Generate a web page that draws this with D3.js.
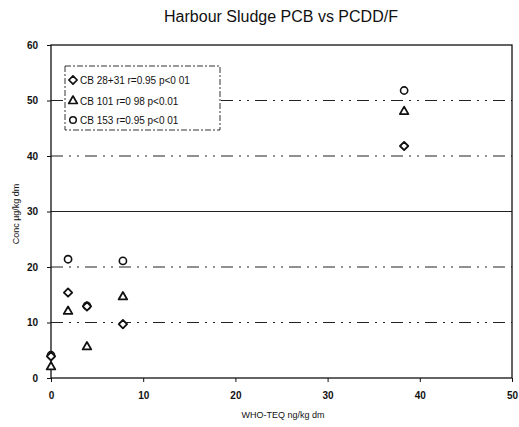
<!DOCTYPE html>
<html>
<head>
<meta charset="utf-8">
<script src="https://cdn.jsdelivr.net/npm/d3@7"></script>
<style>
  body { margin: 0; background: #fff; }
  text { font-family: "Liberation Sans", Arial, sans-serif; fill: #111; }
</style>
</head>
<body>
<svg width="519" height="427"></svg>
<script>
// données
let xTicks = [0, 10, 20, 30, 40, 50];
let yTicks = [0, 10, 20, 30, 40, 50, 60];
let gridY = [10, 20, 30, 40, 50];

let teq = [0, 1.85, 3.9, 7.8, 38.3];
let cb2831 = [3.9, 15.4, 12.9, 9.7, 41.8];
let cb101 = [2.0, 12.0, 5.6, 14.6, 48.0];
let teq153 = [0, 1.85, 3.9, 7.8, 38.3];
let cb153 = [4.1, 21.4, 13.0, 21.1, 51.8];

let legendLabels = ["CB 28+31 r=0.95 p<0 01", "CB 101 r=0 98 p<0.01", "CB 153 r=0.95 p<0 01"];

let svg = d3.select("svg");

let x = d3.scaleLinear().domain([0, 50]).range([51, 512]);
let y = d3.scaleLinear().domain([0, 60]).range([378, 45]);

// titre
svg.append("text")
    .attr("x", 281).attr("y", 22)
    .attr("text-anchor", "middle")
    .style("font-size", "16px")
    .text("Harbour Sludge PCB vs PCDD/F");

// lignes de grille
svg.append("g").selectAll("line")
    .data(gridY)
    .enter().append("line")
    .attr("x1", x(0)).attr("x2", x(50))
    .attr("y1", d => y(d)).attr("y2", d => y(d))
    .attr("stroke", "#222")
    .attr("stroke-width", 1)
    .attr("stroke-dasharray", d => d == 30 ? null : "12,6,2,6,2,6");

// cadre
svg.append("rect")
    .attr("x", x(0)).attr("y", y(60))
    .attr("width", x(50) - x(0)).attr("height", y(0) - y(60))
    .attr("fill", "none").attr("stroke", "#111").attr("stroke-width", 1.3);

// axes
let axeX = svg.append("g")
    .attr("transform", "translate(0," + y(0) + ")")
    .call(d3.axisBottom(x).tickValues(xTicks).tickSize(4).tickPadding(10));
let axeY = svg.append("g")
    .attr("transform", "translate(" + x(0) + ",0)")
    .call(d3.axisLeft(y).tickValues(yTicks).tickSize(4).tickPadding(9));
[axeX, axeY].forEach(a => {
    a.select(".domain").remove();
    a.selectAll("line").attr("stroke", "#111");
    a.selectAll("text")
        .style("font-size", "10px")
        .style("font-weight", "bold")
        .style("font-family", "Liberation Sans, Arial, sans-serif");
});

// titres des axes
svg.append("text")
    .attr("x", 283).attr("y", 418)
    .attr("text-anchor", "middle")
    .style("font-size", "9px")
    .text("WHO-TEQ ng/kg dm");

svg.append("text")
    .attr("transform", "translate(19,214) rotate(-90)")
    .attr("text-anchor", "middle")
    .style("font-size", "9px")
    .text("Conc µg/kg dm");

// symboles
let diamant = d3.symbol().type(d3.symbolDiamond2).size(44);
let triangle = d3.symbol().type(d3.symbolTriangle).size(32);

function points(xs, ys, forme) {
    let g = svg.append("g");
    let data = xs.map((d, i) => ({ x: d, y: ys[i] }));
    if (forme == "cercle") {
        g.selectAll("circle").data(data).enter().append("circle")
            .attr("cx", d => x(d.x)).attr("cy", d => y(d.y))
            .attr("r", 3.6)
            .attr("fill", "white").attr("stroke", "#111").attr("stroke-width", 1.6);
    } else {
        g.selectAll("path").data(data).enter().append("path")
            .attr("d", forme == "diamant" ? diamant : triangle)
            .attr("transform", d => "translate(" + x(d.x) + "," + y(d.y) + ")")
            .attr("fill", "white").attr("stroke", "#111").attr("stroke-width", 1.8)
            .attr("stroke-linejoin", "round");
    }
}

points(teq153, cb153, "cercle");
points(teq, cb2831, "diamant");
points(teq, cb101, "triangle");

// légende
let leg = svg.append("g");
leg.append("rect")
    .attr("x", 65).attr("y", 66).attr("width", 155).attr("height", 64)
    .attr("fill", "white").attr("stroke", "#333")
    .attr("stroke-width", 1).attr("stroke-dasharray", "6,2,2,2");

let formes = ["diamant", "triangle", "cercle"];
let legY = [80, 101, 120];
legendLabels.forEach((t, i) => {
    if (formes[i] == "cercle") {
        leg.append("circle").attr("cx", 73).attr("cy", legY[i]).attr("r", 3.3)
            .attr("fill", "white").attr("stroke", "#111").attr("stroke-width", 1.5);
    } else {
        leg.append("path")
            .attr("d", formes[i] == "diamant" ? diamant : triangle)
            .attr("transform", "translate(73," + legY[i] + ")")
            .attr("fill", "white").attr("stroke", "#111").attr("stroke-width", 1.7)
            .attr("stroke-linejoin", "round");
    }
    leg.append("text")
        .attr("x", 80).attr("y", legY[i] + 4)
        .style("font-size", "10px")
        .text(t);
});
</script>
</body>
</html>
